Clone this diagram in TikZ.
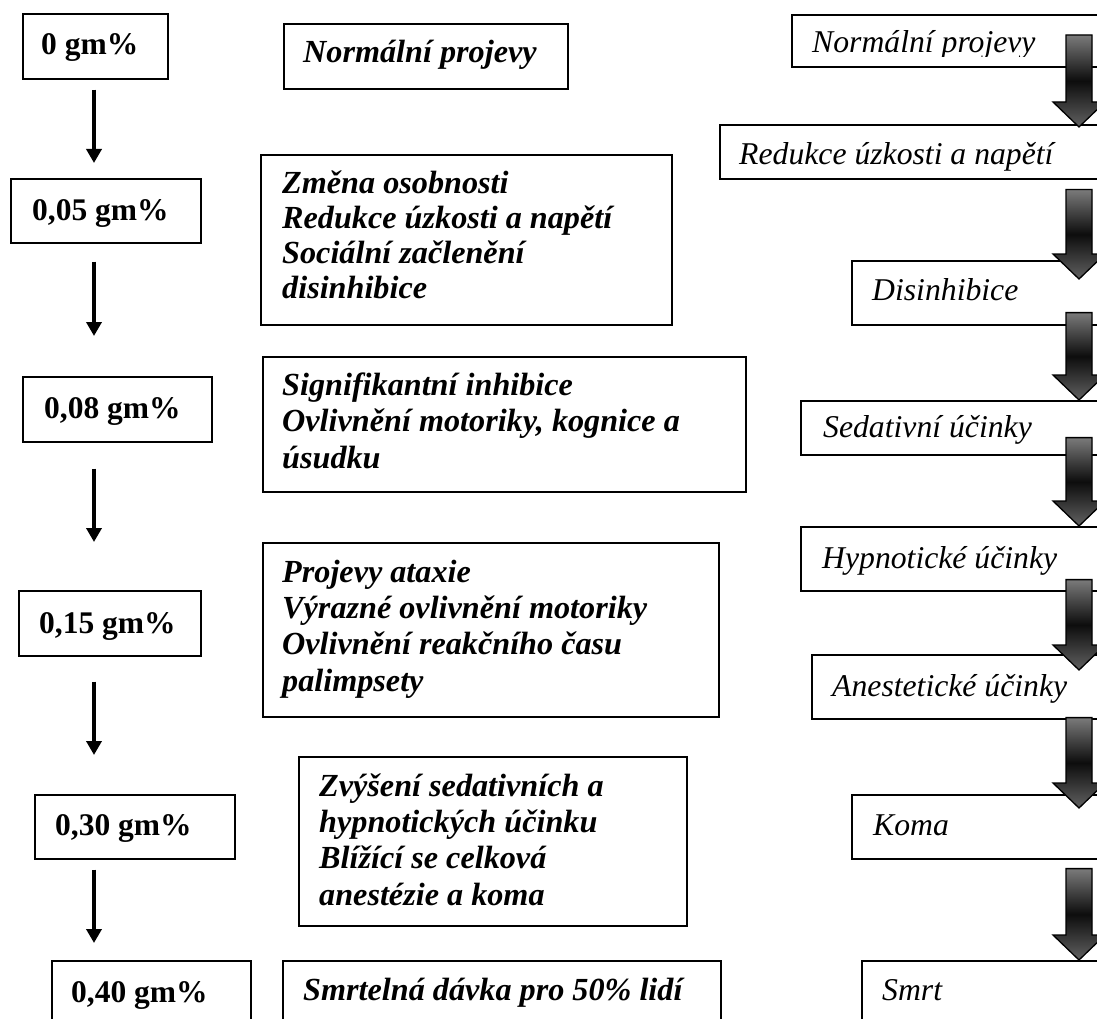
\documentclass[tikz,border=0pt]{standalone}
\usepackage{fontspec}
\setmainfont{Liberation Serif}
\usetikzlibrary{arrows.meta,calc}

\tikzset{
  box/.style={draw=black, line width=1.6pt, rectangle, inner sep=0pt, anchor=north west},
  dosetext/.style={font=\fontsize{31.5}{36}\selectfont\bfseries, inner sep=0pt, anchor=base west},
  effecttext/.style={font=\fontsize{32.2}{36.3}\selectfont\bfseries\itshape, inner sep=0pt, anchor=base west, align=left},
  stagetext/.style={font=\fontsize{31.7}{36}\selectfont\itshape, inner sep=0pt, anchor=base west},
  thinarrow/.style={line width=4.5pt, -{Triangle[width=15pt,length=14pt]}},
  fatbody/.style={draw=black, line width=1.3pt, line join=miter,
    top color=black!52, bottom color=black!62, middle color=black!95},
  fatshadow/.style={fill=black!30},
}

% rectangle node: name, left, top, width, height (pixel units)
\newcommand\boxnode[5]{%
  \node[box, minimum width=#4pt, minimum height=#5pt] (#1) at (#2,#3) {};}

% shaded block arrow between two named points
\newcommand\fatarrow[2]{%
  \path[fatshadow, shift={(2.5pt,-2.5pt)}] let \p1=(#1), \p2=(#2) in
    (\x1-13pt,\y1) -- (\x1+13pt,\y1) -- (\x1+13pt,\y2+25pt) -- (\x1+26pt,\y2+25pt)
    -- (\x1,\y2) -- (\x1-26pt,\y2+25pt) -- (\x1-13pt,\y2+25pt) -- cycle;
  \path[fatbody] let \p1=(#1), \p2=(#2) in
    (\x1-13pt,\y1) -- (\x1+13pt,\y1) -- (\x1+13pt,\y2+25pt) -- (\x1+26pt,\y2+25pt)
    -- (\x1,\y2) -- (\x1-26pt,\y2+25pt) -- (\x1-13pt,\y2+25pt) -- cycle;}

\begin{document}
\begin{tikzpicture}[x=1pt, y=-1pt]
\useasboundingbox (0,0) rectangle (1097,1019);
\clip (0,0) rectangle (1097,1019);
\fill[white] (0,0) rectangle (1097,1019);

% ---- concentration column ----
\boxnode{a0}{22}{13}{145}{65}
\boxnode{a1}{10}{178}{190}{64}
\boxnode{a2}{22}{376}{189}{65}
\boxnode{a3}{18}{590}{182}{65}
\boxnode{a4}{34}{794}{200}{64}
\boxnode{a5}{51}{960}{199}{80}
\node[dosetext] (a0t) at (41,55) {0 gm\%};
\node[dosetext] (a1t) at (32,220) {0,05 gm\%};
\node[dosetext] (a2t) at (44,418) {0,08 gm\%};
\node[dosetext] (a3t) at (39,633) {0,15 gm\%};
\node[dosetext] (a4t) at (55,835) {0,30 gm\%};
\node[dosetext] (a5t) at (71,1002) {0,40 gm\%};

\coordinate (ax) at (94,0);
\draw[thinarrow] ($(a0.south -| ax)+(0,10)$) -- ($(a1.north -| ax)+(0,-15)$);
\draw[thinarrow] ($(a1.south -| ax)+(0,18)$) -- ($(a2.north -| ax)+(0,-40)$);
\draw[thinarrow] ($(a2.south -| ax)+(0,26)$) -- ($(a3.north -| ax)+(0,-48)$);
\draw[thinarrow] ($(a3.south -| ax)+(0,25)$) -- ($(a4.north -| ax)+(0,-39)$);
\draw[thinarrow] ($(a4.south -| ax)+(0,10)$) -- ($(a5.north -| ax)+(0,-17)$);

% ---- effects column (multi-line texts anchored at their last baseline) ----
\boxnode{m0}{283}{23}{284}{65}
\boxnode{m1}{260}{154}{411}{170}
\boxnode{m2}{262}{356}{483}{135}
\boxnode{m3}{262}{542}{456}{174}
\boxnode{m4}{298}{756}{388}{169}
\boxnode{m5}{282}{960}{438}{80}
\node[effecttext] (m0t) at (303,63) {Normální projevy};
\node[effecttext, font=\fontsize{32.2}{34.7}\selectfont\bfseries\itshape] (m1t) at (282,298)
  {Změna osobnosti\\Redukce úzkosti a napětí\\Sociální začlenění\\disinhibice};
\node[effecttext] (m2t) at (282,468)
  {Signifikantní inhibice\\Ovlivnění motoriky, kognice a\\úsudku};
\node[effecttext] (m3t) at (282,691)
  {Projevy ataxie\\Výrazné ovlivnění motoriky\\Ovlivnění reakčního času\\palimpsety};
\node[effecttext] (m4t) at (319,905)
  {Zvýšení sedativních a\\hypnotických účinku\\Blížící se celková\\anestézie a koma};
\node[effecttext] (m5t) at (303,1000) {Smrtelná dávka pro 50\% lidí};

% ---- stages column ----
\boxnode{r0}{791}{14}{329}{52}
\boxnode{r1}{719}{124}{401}{54}
\boxnode{r2}{851}{260}{269}{64}
\boxnode{r3}{800}{400}{320}{54}
\boxnode{r4}{800}{526}{320}{64}
\boxnode{r5}{811}{654}{309}{64}
\boxnode{r6}{851}{794}{269}{64}
\boxnode{r7}{861}{960}{259}{80}
\begin{scope}
  \clip (791,14) rectangle (1097,57);
  \node[stagetext] (r0t) at (812,53) {Normální projevy};
\end{scope}
\node[stagetext] (r1t) at (739,165) {Redukce úzkosti a napětí};
\node[stagetext] (r2t) at (872,300) {Disinhibice};
\node[stagetext] (r3t) at (823,437) {Sedativní účinky};
\node[stagetext] (r4t) at (822,568) {Hypnotické účinky};
\node[stagetext] (r5t) at (832,696) {Anestetické účinky};
\node[stagetext] (r6t) at (873,835) {Koma};
\node[stagetext] (r7t) at (882,1000) {Smrt};

\coordinate (rx) at (1079,0);
\coordinate (f1s) at ($(r0.north -| rx)+(0,21)$);
\coordinate (f1e) at ($(r1.north -| rx)+(0,3)$);
\coordinate (f2s) at ($(r1.south -| rx)+(0,10)$);
\coordinate (f2e) at ($(r2.north -| rx)+(0,19)$);
\coordinate (f3s) at ($(r2.south -| rx)+(0,-13)$);
\coordinate (f3e) at (r3.north -| rx);
\coordinate (f4s) at ($(r3.south -| rx)+(0,-18)$);
\coordinate (f4e) at (r4.north -| rx);
\coordinate (f5s) at ($(r4.south -| rx)+(0,-12)$);
\coordinate (f5e) at ($(r5.north -| rx)+(0,16)$);
\coordinate (f6s) at ($(r5.south -| rx)+(0,-2)$);
\coordinate (f6e) at ($(r6.north -| rx)+(0,14)$);
\coordinate (f7s) at ($(r6.south -| rx)+(0,9)$);
\coordinate (f7e) at (r7.north -| rx);
\fatarrow{f1s}{f1e}
\fatarrow{f2s}{f2e}
\fatarrow{f3s}{f3e}
\fatarrow{f4s}{f4e}
\fatarrow{f5s}{f5e}
\fatarrow{f6s}{f6e}
\fatarrow{f7s}{f7e}
\end{tikzpicture}
\end{document}
